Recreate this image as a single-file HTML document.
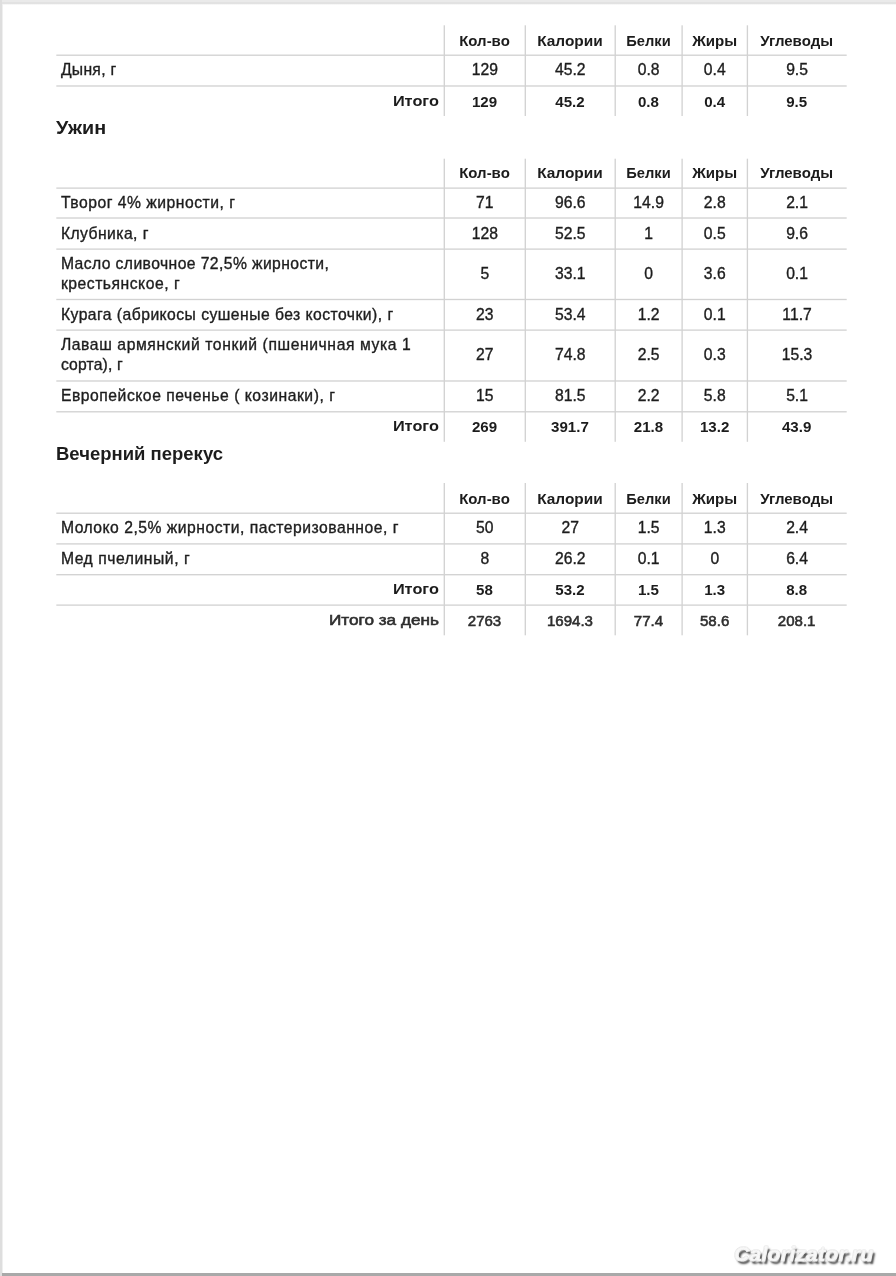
<!DOCTYPE html>
<html lang="ru"><head><meta charset="utf-8"><title>Calorizator</title>
<style>
html,body{margin:0;padding:0;background:#fff}
body{width:896px;height:1276px;position:relative;overflow:hidden;font-family:"Liberation Sans", sans-serif;color:#1d1d1d}
.et{position:absolute;left:0;top:0;width:896px;height:5px;background:linear-gradient(#eaeaea 0,#eaeaea 36%,#e2e2e2 40%,#e2e2e2 72%,#f3f3f3 84%,#fdfdfd 100%)}
.el{position:absolute;left:0;top:0;width:2px;height:1276px;background:#dedede}
.el2{position:absolute;left:2px;top:4px;width:1px;height:1269px;background:#efefef}
.eb{position:absolute;left:2px;top:1273px;width:894px;height:3px;background:#a9a9a9}
.ln{position:absolute;left:0;top:0}
.t{position:absolute;white-space:nowrap;line-height:20px;height:20px}
.r{font-size:15.7px;-webkit-text-stroke:0.35px #1d1d1d}
.b{font-size:14.4px;font-weight:bold;color:#1c1c1c}
.l{font-size:15.2px;font-weight:bold;color:#1c1c1c}
.g{font-size:14.4px;color:#2e2e2e;-webkit-text-stroke:0.55px #2e2e2e}
.gl{font-size:15.2px;color:#2e2e2e;-webkit-text-stroke:0.6px #2e2e2e}
.h{font-size:18.0px;font-weight:bold;color:#1c1c1c;line-height:24px;height:24px}
.c{text-align:center}
.e{text-align:right}
.wm{position:absolute;left:733.5px;top:1242px;font:italic bold 19.5px/24px "Liberation Sans", sans-serif;color:#f8f8f8;white-space:nowrap;
 transform-origin:0 0;transform:scaleX(1.085);-webkit-text-stroke:0.9px #f4f4f4;letter-spacing:0.2px;
 text-shadow:0 0 1px #8c8c8c,0 0 1px #a0a0a0,2px 2.5px 2px rgba(0,0,0,.72)}
</style></head>
<body>
<div class="et"></div><div class="el"></div><div class="el2"></div><div class="eb"></div>
<svg class="ln" width="896" height="1276" viewBox="0 0 896 1276" fill="#d2d2d2"><rect x="443.63" y="25.30" width="1.33" height="90.70"/><rect x="524.63" y="25.30" width="1.33" height="90.70"/><rect x="614.54" y="25.30" width="1.33" height="90.70"/><rect x="681.44" y="25.30" width="1.33" height="90.70"/><rect x="746.74" y="25.30" width="1.33" height="90.70"/><rect x="56.30" y="54.54" width="790.40" height="1.33"/><rect x="56.30" y="85.33" width="790.40" height="1.33"/><rect x="443.63" y="158.70" width="1.33" height="283.10"/><rect x="524.63" y="158.70" width="1.33" height="283.10"/><rect x="614.54" y="158.70" width="1.33" height="283.10"/><rect x="681.44" y="158.70" width="1.33" height="283.10"/><rect x="746.74" y="158.70" width="1.33" height="283.10"/><rect x="56.30" y="187.44" width="790.40" height="1.33"/><rect x="56.30" y="217.34" width="790.40" height="1.33"/><rect x="56.30" y="248.44" width="790.40" height="1.33"/><rect x="56.30" y="298.83" width="790.40" height="1.33"/><rect x="56.30" y="329.44" width="790.40" height="1.33"/><rect x="56.30" y="380.33" width="790.40" height="1.33"/><rect x="56.30" y="411.13" width="790.40" height="1.33"/><rect x="443.63" y="483.00" width="1.33" height="152.30"/><rect x="524.63" y="483.00" width="1.33" height="152.30"/><rect x="614.54" y="483.00" width="1.33" height="152.30"/><rect x="681.44" y="483.00" width="1.33" height="152.30"/><rect x="746.74" y="483.00" width="1.33" height="152.30"/><rect x="56.30" y="512.54" width="790.40" height="1.33"/><rect x="56.30" y="543.24" width="790.40" height="1.33"/><rect x="56.30" y="574.04" width="790.40" height="1.33"/><rect x="56.30" y="604.44" width="790.40" height="1.33"/></svg>
<div class="t h" id="t0" style="left:55.8px;top:116px;width:200.0px;transform:scaleX(1.0991);transform-origin:0 50%;">Ужин</div>
<div class="t h" id="t1" style="left:56.4px;top:442px;width:300.0px;transform:scaleX(1.0277);transform-origin:0 50%;">Вечерний перекус</div>
<div class="tb">
<div class="t b c" id="t2" style="left:444.3px;top:31px;width:81.0px;transform:scaleX(1.0410);transform-origin:50% 50%;">Кол-во</div>
<div class="t b c" id="t3" style="left:525.3px;top:31px;width:89.9px;transform:scaleX(1.0718);transform-origin:50% 50%;">Калории</div>
<div class="t b c" id="t4" style="left:615.2px;top:31px;width:66.9px;transform:scaleX(1.0219);transform-origin:50% 50%;">Белки</div>
<div class="t b c" id="t5" style="left:682.1px;top:31px;width:65.3px;transform:scaleX(1.0480);transform-origin:50% 50%;">Жиры</div>
<div class="t b c" id="t6" style="left:747.4px;top:31px;width:99.3px;transform:scaleX(1.0432);transform-origin:50% 50%;">Углеводы</div>
<div class="t r" id="t7" style="left:60.9px;top:60px;width:380.0px;letter-spacing:0.300px;">Дыня, г</div>
<div class="t r c" id="t8" style="left:444.3px;top:60px;width:81.0px;letter-spacing:0.000px;">129</div>
<div class="t r c" id="t9" style="left:525.3px;top:60px;width:89.9px;letter-spacing:0.000px;">45.2</div>
<div class="t r c" id="t10" style="left:615.2px;top:60px;width:66.9px;letter-spacing:0.000px;">0.8</div>
<div class="t r c" id="t11" style="left:682.1px;top:60px;width:65.3px;letter-spacing:0.000px;">0.4</div>
<div class="t r c" id="t12" style="left:747.4px;top:60px;width:99.3px;letter-spacing:0.000px;">9.5</div>
<div class="t l e" id="t13" style="left:56.3px;top:91px;width:382.9px;transform:scaleX(1.0737);transform-origin:100% 50%;">Итого</div>
<div class="t b c" id="t14" style="left:444.3px;top:92px;width:81.0px;transform:scaleX(1.0500);transform-origin:50% 50%;">129</div>
<div class="t b c" id="t15" style="left:525.3px;top:92px;width:89.9px;transform:scaleX(1.0500);transform-origin:50% 50%;">45.2</div>
<div class="t b c" id="t16" style="left:615.2px;top:92px;width:66.9px;transform:scaleX(1.0500);transform-origin:50% 50%;">0.8</div>
<div class="t b c" id="t17" style="left:682.1px;top:92px;width:65.3px;transform:scaleX(1.0500);transform-origin:50% 50%;">0.4</div>
<div class="t b c" id="t18" style="left:747.4px;top:92px;width:99.3px;transform:scaleX(1.0500);transform-origin:50% 50%;">9.5</div>
</div>
<div class="tb">
<div class="t b c" id="t19" style="left:444.3px;top:163px;width:81.0px;transform:scaleX(1.0410);transform-origin:50% 50%;">Кол-во</div>
<div class="t b c" id="t20" style="left:525.3px;top:163px;width:89.9px;transform:scaleX(1.0718);transform-origin:50% 50%;">Калории</div>
<div class="t b c" id="t21" style="left:615.2px;top:163px;width:66.9px;transform:scaleX(1.0219);transform-origin:50% 50%;">Белки</div>
<div class="t b c" id="t22" style="left:682.1px;top:163px;width:65.3px;transform:scaleX(1.0480);transform-origin:50% 50%;">Жиры</div>
<div class="t b c" id="t23" style="left:747.4px;top:163px;width:99.3px;transform:scaleX(1.0432);transform-origin:50% 50%;">Углеводы</div>
<div class="t r" id="t24" style="left:60.9px;top:193px;width:380.0px;letter-spacing:0.508px;">Творог 4% жирности, г</div>
<div class="t r c" id="t25" style="left:444.3px;top:193px;width:81.0px;letter-spacing:0.000px;">71</div>
<div class="t r c" id="t26" style="left:525.3px;top:193px;width:89.9px;letter-spacing:0.000px;">96.6</div>
<div class="t r c" id="t27" style="left:615.2px;top:193px;width:66.9px;letter-spacing:0.000px;">14.9</div>
<div class="t r c" id="t28" style="left:682.1px;top:193px;width:65.3px;letter-spacing:0.000px;">2.8</div>
<div class="t r c" id="t29" style="left:747.4px;top:193px;width:99.3px;letter-spacing:0.000px;">2.1</div>
<div class="t r" id="t30" style="left:60.9px;top:224px;width:380.0px;letter-spacing:0.445px;">Клубника, г</div>
<div class="t r c" id="t31" style="left:444.3px;top:224px;width:81.0px;letter-spacing:0.000px;">128</div>
<div class="t r c" id="t32" style="left:525.3px;top:224px;width:89.9px;letter-spacing:0.000px;">52.5</div>
<div class="t r c" id="t33" style="left:615.2px;top:224px;width:66.9px;letter-spacing:0.000px;">1</div>
<div class="t r c" id="t34" style="left:682.1px;top:224px;width:65.3px;letter-spacing:0.000px;">0.5</div>
<div class="t r c" id="t35" style="left:747.4px;top:224px;width:99.3px;letter-spacing:0.000px;">9.6</div>
<div class="t r" id="t36" style="left:60.9px;top:254px;width:380.0px;letter-spacing:0.415px;">Масло сливочное 72,5% жирности,</div>
<div class="t r" id="t37" style="left:60.9px;top:274px;width:380.0px;letter-spacing:0.523px;">крестьянское, г</div>
<div class="t r c" id="t38" style="left:444.3px;top:264px;width:81.0px;letter-spacing:0.000px;">5</div>
<div class="t r c" id="t39" style="left:525.3px;top:264px;width:89.9px;letter-spacing:0.000px;">33.1</div>
<div class="t r c" id="t40" style="left:615.2px;top:264px;width:66.9px;letter-spacing:0.000px;">0</div>
<div class="t r c" id="t41" style="left:682.1px;top:264px;width:65.3px;letter-spacing:0.000px;">3.6</div>
<div class="t r c" id="t42" style="left:747.4px;top:264px;width:99.3px;letter-spacing:0.000px;">0.1</div>
<div class="t r" id="t43" style="left:60.9px;top:305px;width:380.0px;letter-spacing:0.466px;">Курага (абрикосы сушеные без косточки), г</div>
<div class="t r c" id="t44" style="left:444.3px;top:305px;width:81.0px;letter-spacing:0.000px;">23</div>
<div class="t r c" id="t45" style="left:525.3px;top:305px;width:89.9px;letter-spacing:0.000px;">53.4</div>
<div class="t r c" id="t46" style="left:615.2px;top:305px;width:66.9px;letter-spacing:0.000px;">1.2</div>
<div class="t r c" id="t47" style="left:682.1px;top:305px;width:65.3px;letter-spacing:0.000px;">0.1</div>
<div class="t r c" id="t48" style="left:747.4px;top:305px;width:99.3px;letter-spacing:0.000px;">11.7</div>
<div class="t r" id="t49" style="left:60.9px;top:335px;width:380.0px;letter-spacing:0.596px;">Лаваш армянский тонкий (пшеничная мука 1</div>
<div class="t r" id="t50" style="left:60.9px;top:355px;width:380.0px;letter-spacing:0.174px;">сорта), г</div>
<div class="t r c" id="t51" style="left:444.3px;top:345px;width:81.0px;letter-spacing:0.000px;">27</div>
<div class="t r c" id="t52" style="left:525.3px;top:345px;width:89.9px;letter-spacing:0.000px;">74.8</div>
<div class="t r c" id="t53" style="left:615.2px;top:345px;width:66.9px;letter-spacing:0.000px;">2.5</div>
<div class="t r c" id="t54" style="left:682.1px;top:345px;width:65.3px;letter-spacing:0.000px;">0.3</div>
<div class="t r c" id="t55" style="left:747.4px;top:345px;width:99.3px;letter-spacing:0.000px;">15.3</div>
<div class="t r" id="t56" style="left:60.9px;top:386px;width:380.0px;letter-spacing:0.540px;">Европейское печенье ( козинаки), г</div>
<div class="t r c" id="t57" style="left:444.3px;top:386px;width:81.0px;letter-spacing:0.000px;">15</div>
<div class="t r c" id="t58" style="left:525.3px;top:386px;width:89.9px;letter-spacing:0.000px;">81.5</div>
<div class="t r c" id="t59" style="left:615.2px;top:386px;width:66.9px;letter-spacing:0.000px;">2.2</div>
<div class="t r c" id="t60" style="left:682.1px;top:386px;width:65.3px;letter-spacing:0.000px;">5.8</div>
<div class="t r c" id="t61" style="left:747.4px;top:386px;width:99.3px;letter-spacing:0.000px;">5.1</div>
<div class="t l e" id="t62" style="left:56.3px;top:416px;width:382.9px;transform:scaleX(1.0737);transform-origin:100% 50%;">Итого</div>
<div class="t b c" id="t63" style="left:444.3px;top:417px;width:81.0px;transform:scaleX(1.0500);transform-origin:50% 50%;">269</div>
<div class="t b c" id="t64" style="left:525.3px;top:417px;width:89.9px;transform:scaleX(1.0500);transform-origin:50% 50%;">391.7</div>
<div class="t b c" id="t65" style="left:615.2px;top:417px;width:66.9px;transform:scaleX(1.0500);transform-origin:50% 50%;">21.8</div>
<div class="t b c" id="t66" style="left:682.1px;top:417px;width:65.3px;transform:scaleX(1.0500);transform-origin:50% 50%;">13.2</div>
<div class="t b c" id="t67" style="left:747.4px;top:417px;width:99.3px;transform:scaleX(1.0500);transform-origin:50% 50%;">43.9</div>
</div>
<div class="tb">
<div class="t b c" id="t68" style="left:444.3px;top:489px;width:81.0px;transform:scaleX(1.0410);transform-origin:50% 50%;">Кол-во</div>
<div class="t b c" id="t69" style="left:525.3px;top:489px;width:89.9px;transform:scaleX(1.0718);transform-origin:50% 50%;">Калории</div>
<div class="t b c" id="t70" style="left:615.2px;top:489px;width:66.9px;transform:scaleX(1.0219);transform-origin:50% 50%;">Белки</div>
<div class="t b c" id="t71" style="left:682.1px;top:489px;width:65.3px;transform:scaleX(1.0480);transform-origin:50% 50%;">Жиры</div>
<div class="t b c" id="t72" style="left:747.4px;top:489px;width:99.3px;transform:scaleX(1.0432);transform-origin:50% 50%;">Углеводы</div>
<div class="t r" id="t73" style="left:60.9px;top:518px;width:380.0px;letter-spacing:0.502px;">Молоко 2,5% жирности, пастеризованное, г</div>
<div class="t r c" id="t74" style="left:444.3px;top:518px;width:81.0px;letter-spacing:0.000px;">50</div>
<div class="t r c" id="t75" style="left:525.3px;top:518px;width:89.9px;letter-spacing:0.000px;">27</div>
<div class="t r c" id="t76" style="left:615.2px;top:518px;width:66.9px;letter-spacing:0.000px;">1.5</div>
<div class="t r c" id="t77" style="left:682.1px;top:518px;width:65.3px;letter-spacing:0.000px;">1.3</div>
<div class="t r c" id="t78" style="left:747.4px;top:518px;width:99.3px;letter-spacing:0.000px;">2.4</div>
<div class="t r" id="t79" style="left:60.9px;top:549px;width:380.0px;letter-spacing:0.555px;">Мед пчелиный, г</div>
<div class="t r c" id="t80" style="left:444.3px;top:549px;width:81.0px;letter-spacing:0.000px;">8</div>
<div class="t r c" id="t81" style="left:525.3px;top:549px;width:89.9px;letter-spacing:0.000px;">26.2</div>
<div class="t r c" id="t82" style="left:615.2px;top:549px;width:66.9px;letter-spacing:0.000px;">0.1</div>
<div class="t r c" id="t83" style="left:682.1px;top:549px;width:65.3px;letter-spacing:0.000px;">0</div>
<div class="t r c" id="t84" style="left:747.4px;top:549px;width:99.3px;letter-spacing:0.000px;">6.4</div>
<div class="t l e" id="t85" style="left:56.3px;top:579px;width:382.9px;transform:scaleX(1.0737);transform-origin:100% 50%;">Итого</div>
<div class="t b c" id="t86" style="left:444.3px;top:580px;width:81.0px;transform:scaleX(1.0500);transform-origin:50% 50%;">58</div>
<div class="t b c" id="t87" style="left:525.3px;top:580px;width:89.9px;transform:scaleX(1.0500);transform-origin:50% 50%;">53.2</div>
<div class="t b c" id="t88" style="left:615.2px;top:580px;width:66.9px;transform:scaleX(1.0500);transform-origin:50% 50%;">1.5</div>
<div class="t b c" id="t89" style="left:682.1px;top:580px;width:65.3px;transform:scaleX(1.0500);transform-origin:50% 50%;">1.3</div>
<div class="t b c" id="t90" style="left:747.4px;top:580px;width:99.3px;transform:scaleX(1.0500);transform-origin:50% 50%;">8.8</div>
<div class="t gl e" id="t91" style="left:56.3px;top:610px;width:382.9px;transform:scaleX(1.1299);transform-origin:100% 50%;">Итого за день</div>
<div class="t g c" id="t92" style="left:444.3px;top:611px;width:81.0px;transform:scaleX(1.0450);transform-origin:50% 50%;">2763</div>
<div class="t g c" id="t93" style="left:525.3px;top:611px;width:89.9px;transform:scaleX(1.0450);transform-origin:50% 50%;">1694.3</div>
<div class="t g c" id="t94" style="left:615.2px;top:611px;width:66.9px;transform:scaleX(1.0450);transform-origin:50% 50%;">77.4</div>
<div class="t g c" id="t95" style="left:682.1px;top:611px;width:65.3px;transform:scaleX(1.0450);transform-origin:50% 50%;">58.6</div>
<div class="t g c" id="t96" style="left:747.4px;top:611px;width:99.3px;transform:scaleX(1.0450);transform-origin:50% 50%;">208.1</div>
</div>
<div class="wm">Calorizator.ru</div>
</body></html>
